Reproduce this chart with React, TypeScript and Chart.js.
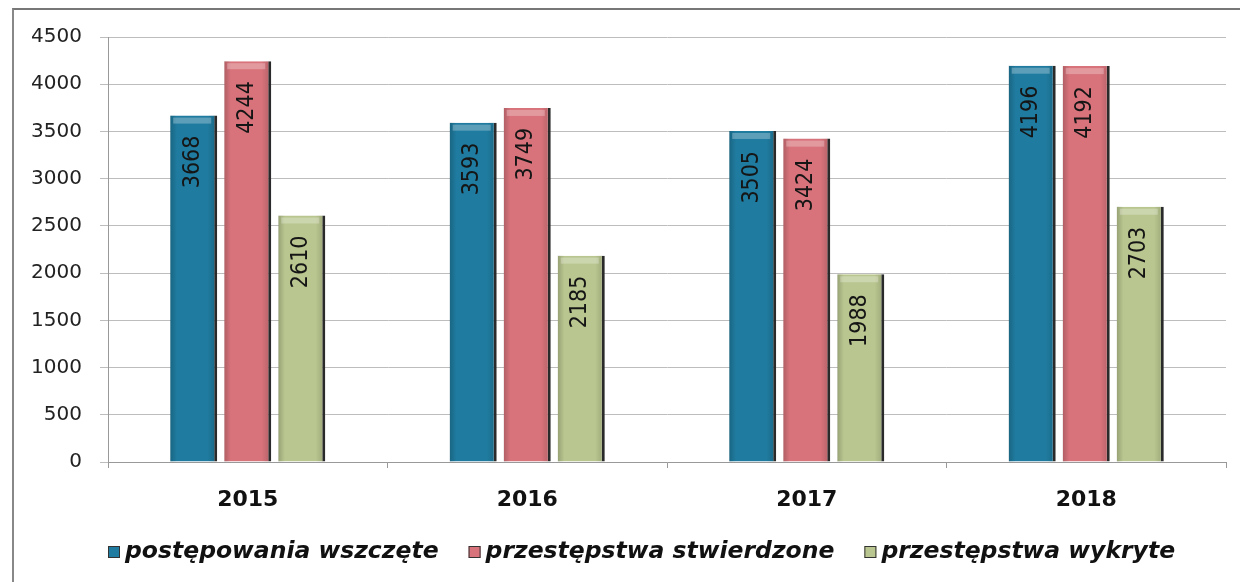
import React, { useEffect, useRef } from "react";
import { Chart, registerables } from "chart.js";

Chart.register(...registerables);

const categories = ["2015", "2016", "2017", "2018"];
const seriesNames = ["postępowania wszczęte", "przestępstwa stwierdzone", "przestępstwa wykryte"];
const postepowaniaWszczete = [3668, 3593, 3505, 4196];
const przestepstwaStwierdzone = [4244, 3749, 3424, 4192];
const przestepstwaWykryte = [2610, 2185, 1988, 2703];
const yTicks = [0, 500, 1000, 1500, 2000, 2500, 3000, 3500, 4000, 4500];

const seriesColors = ["#1f7b9f", "#d8737b", "#b9c68f"];

const valueLabels = {
  id: "valueLabels",
  afterDatasetsDraw(chart: any) {
    const ctx = chart.ctx;
    chart.data.datasets.forEach((ds: any, di: number) => {
      const meta = chart.getDatasetMeta(di);
      meta.data.forEach((bar: any, i: number) => {
        const left = bar.x - bar.width / 2;
        const w = bar.width - 3;
        // subtle 3D shading: light cap on top and soft darker left edge
        ctx.save();
        const g = ctx.createLinearGradient(left, 0, left + w, 0);
        g.addColorStop(0, "rgba(0,0,0,0.18)");
        g.addColorStop(0.15, "rgba(0,0,0,0)");
        g.addColorStop(0.85, "rgba(0,0,0,0)");
        g.addColorStop(1, "rgba(0,0,0,0.12)");
        ctx.fillStyle = g;
        ctx.fillRect(left, bar.y, w, bar.base - bar.y);
        ctx.fillStyle = "rgba(255,255,255,0.28)";
        ctx.fillRect(left + 3, bar.y + 2, w - 6, 6);
        ctx.restore();

        ctx.save();
        ctx.translate(bar.x - 1, bar.y + 20);
        ctx.rotate(-Math.PI / 2);
        ctx.font = "23px 'DejaVu Sans Condensed', 'DejaVu Sans'";
        ctx.fillStyle = "#151515";
        ctx.textAlign = "right";
        ctx.textBaseline = "middle";
        ctx.fillText(String(ds.data[i]), 0, 0);
        ctx.restore();
      });
    });
  },
};

const customLegend = {
  id: "customLegend",
  afterDraw(chart: any) {
    const ctx = chart.ctx;
    ctx.save();
    ctx.font = "italic bold 23.5px 'DejaVu Sans'";
    ctx.textBaseline = "middle";
    ctx.textAlign = "left";
    let x = 108;
    const y = 552;
    chart.data.datasets.forEach((ds: any) => {
      ctx.fillStyle = ds.backgroundColor;
      ctx.fillRect(x, y - 6, 12, 12);
      ctx.strokeStyle = "#333";
      ctx.lineWidth = 1;
      ctx.strokeRect(x + 0.5, y - 5.5, 11, 11);
      ctx.fillStyle = "#111";
      ctx.fillText(ds.label, x + 17, y);
      x += 17 + ctx.measureText(ds.label).width + 30;
    });
    ctx.restore();
  },
};

export default function App() {
  const ref = useRef<HTMLCanvasElement>(null);
  useEffect(() => {
    const data = [postepowaniaWszczete, przestepstwaStwierdzone, przestepstwaWykryte];
    const chart = new Chart(ref.current!, {
      type: "bar",
      data: {
        labels: categories,
        datasets: seriesNames.map((name, k) => ({
          label: name,
          data: data[k],
          backgroundColor: seriesColors[k],
          borderColor: "#2a2a2a",
          borderWidth: { top: 0, left: 0, bottom: 0, right: 3 },
          borderSkipped: false,
          categoryPercentage: 0.58,
          barPercentage: 0.87,
        })),
      },
      options: {
        animation: false,
        responsive: false,
        layout: { padding: { top: 37, right: 14, bottom: 52, left: 0 } },
        plugins: {
          tooltip: { enabled: false },
          legend: { display: false },
        },
        scales: {
          x: {
            offset: true,
            grid: { drawOnChartArea: false, tickLength: 6, color: "#999" },
            border: { color: "#999" },
            ticks: {
              color: "#111",
              padding: 19,
              font: { family: "'DejaVu Sans'", size: 22, weight: "bold" },
            },
            afterFit: (s: any) => {
              s.height = 68;
            },
          },
          y: {
            min: 0,
            max: 4500,
            afterBuildTicks: (s: any) => {
              s.ticks = yTicks.map((v) => ({ value: v }));
            },
            grid: { color: "#bdbdbd", tickLength: 8 },
            border: { color: "#999" },
            ticks: {
              color: "#222",
              padding: 18,
              font: { family: "'DejaVu Sans'", size: 20 },
              callback: (v: any) => String(v),
            },
            afterFit: (s: any) => {
              s.width = 108;
            },
          },
        },
      },
      plugins: [valueLabels, customLegend],
    });
    return () => chart.destroy();
  }, []);
  return (
    <div style={{ position: "fixed", left: 0, top: 0, width: 1240, height: 582, background: "#fff" }}>
      <div
        style={{
          position: "absolute",
          left: 12,
          top: 8,
          width: 1228,
          height: 574,
          borderTop: "2px solid #777",
          borderLeft: "2px solid #888",
          boxSizing: "border-box",
        }}
      />
      <canvas ref={ref} width={1240} height={582} style={{ position: "absolute", left: 0, top: 0 }} />
    </div>
  );
}
